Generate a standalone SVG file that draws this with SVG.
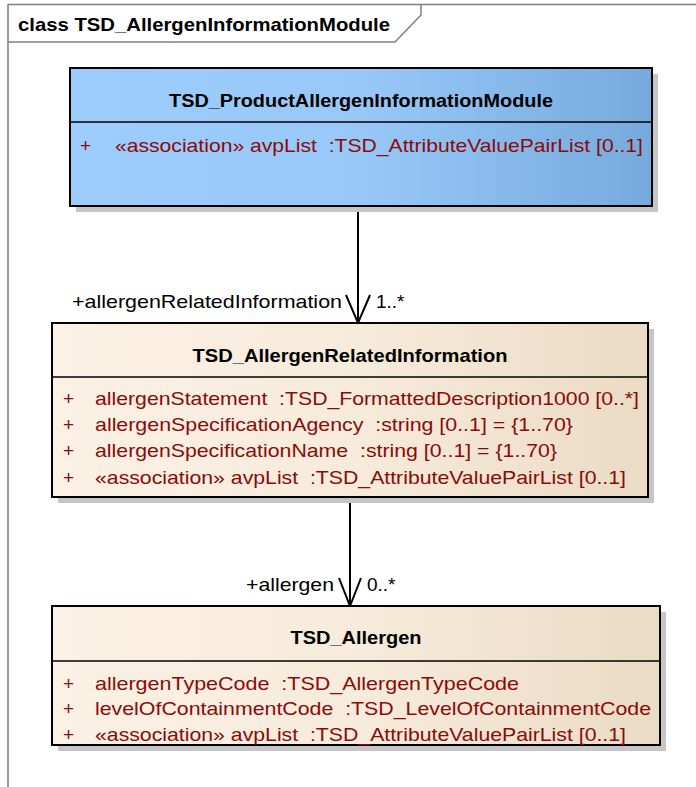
<svg xmlns="http://www.w3.org/2000/svg" width="696" height="787" viewBox="0 0 696 787" xml:space="preserve">
<defs>
<linearGradient id="gBlue" x1="0" y1="0" x2="1" y2="0">
<stop offset="0" stop-color="#9dcdfd"/><stop offset="0.5" stop-color="#97c8f8"/><stop offset="1" stop-color="#76aadd"/>
</linearGradient>
<linearGradient id="gBeige" x1="0" y1="0" x2="1" y2="0">
<stop offset="0" stop-color="#fbf1e4"/><stop offset="0.5" stop-color="#f7ebdb"/><stop offset="1" stop-color="#eadbc4"/>
</linearGradient>
</defs>
<style>
text{white-space:pre}
.frame{fill:none;stroke:#7f7f7f;stroke-width:1.5}
.box{stroke:#000;stroke-width:2}
.shadow{fill:#c6c6c6}
.div{stroke:#000;stroke-width:1.5}
.title{font-family:"Liberation Sans",Arial,sans-serif;font-weight:bold;font-size:19px;fill:#000;text-anchor:middle}
.attr{font-family:"Liberation Sans",Arial,sans-serif;font-size:19px;fill:#8b0a0a}
.lbl{font-family:"Liberation Sans",Arial,sans-serif;font-size:19px;fill:#000}
.conn{stroke:#000;stroke-width:2;fill:none}
</style>
<rect width="696" height="787" fill="#fff"/>
<g id="frame">
<path class="frame" d="M8,787 L8,4.5 L696,4.5"/>
<path class="frame" d="M8,42 L395,42 L421,15 L421,4.5"/>
<text x="18" y="31" font-family="Liberation Sans,Arial,sans-serif" font-weight="bold" font-size="19px" textLength="372" lengthAdjust="spacingAndGlyphs">class TSD_AllergenInformationModule</text>
</g>
<g id="connectors">
<line class="conn" x1="358" y1="206" x2="358" y2="323"/>
<polyline class="conn" points="346,295 358,323 370,295"/>
<text class="lbl" x="342" y="308" text-anchor="end" textLength="270" lengthAdjust="spacingAndGlyphs">+allergenRelatedInformation</text>
<text class="lbl" x="376" y="308">1..*</text>
<line class="conn" x1="350" y1="497" x2="350" y2="606"/>
<polyline class="conn" points="339,578 350,606 361,578"/>
<text class="lbl" x="334" y="591" text-anchor="end" textLength="88" lengthAdjust="spacingAndGlyphs">+allergen</text>
<text class="lbl" x="367" y="591">0..*</text>
</g>
<g id="TSD_ProductAllergenInformationModule">
<rect class="shadow" x="76" y="74" width="582" height="138"/>
<rect class="box" x="70" y="68" width="582" height="138" fill="url(#gBlue)"/>
<line class="div" x1="70" y1="122" x2="652" y2="122"/>
<text class="title" x="361" y="107" textLength="384" lengthAdjust="spacingAndGlyphs">TSD_ProductAllergenInformationModule</text>
<text class="attr" x="80" y="152">+</text>
<text class="attr" x="115" y="152" textLength="528" lengthAdjust="spacingAndGlyphs">«association» avpList  :TSD_AttributeValuePairList [0..1]</text>
</g>
<g id="TSD_AllergenRelatedInformation">
<rect class="shadow" x="58" y="329" width="596" height="174"/>
<rect class="box" x="52" y="323" width="596" height="174" fill="url(#gBeige)"/>
<line class="div" x1="52" y1="377" x2="648" y2="377"/>
<text class="title" x="350" y="362" textLength="315" lengthAdjust="spacingAndGlyphs">TSD_AllergenRelatedInformation</text>
<text class="attr" x="63" y="405">+</text>
<text class="attr" x="95" y="405" textLength="544" lengthAdjust="spacingAndGlyphs">allergenStatement  :TSD_FormattedDescription1000 [0..*]</text>
<text class="attr" x="63" y="431">+</text>
<text class="attr" x="95" y="431" textLength="478" lengthAdjust="spacingAndGlyphs">allergenSpecificationAgency  :string [0..1] = {1..70}</text>
<text class="attr" x="63" y="457">+</text>
<text class="attr" x="95" y="457" textLength="462" lengthAdjust="spacingAndGlyphs">allergenSpecificationName  :string [0..1] = {1..70}</text>
<text class="attr" x="63" y="484">+</text>
<text class="attr" x="95" y="484" textLength="531" lengthAdjust="spacingAndGlyphs">«association» avpList  :TSD_AttributeValuePairList [0..1]</text>
</g>
<g id="TSD_Allergen">
<rect class="shadow" x="58" y="612" width="608" height="139"/>
<rect class="box" x="52" y="606" width="608" height="139" fill="url(#gBeige)"/>
<line class="div" x1="52" y1="661" x2="660" y2="661"/>
<text class="title" x="356" y="644" textLength="131" lengthAdjust="spacingAndGlyphs">TSD_Allergen</text>
<text class="attr" x="63" y="690">+</text>
<text class="attr" x="95" y="690" textLength="424" lengthAdjust="spacingAndGlyphs">allergenTypeCode  :TSD_AllergenTypeCode</text>
<text class="attr" x="63" y="715">+</text>
<text class="attr" x="95" y="715" textLength="556" lengthAdjust="spacingAndGlyphs">levelOfContainmentCode  :TSD_LevelOfContainmentCode</text>
<text class="attr" x="63" y="741">+</text>
<text class="attr" x="95" y="741" textLength="531" lengthAdjust="spacingAndGlyphs">«association» avpList  :TSD_AttributeValuePairList [0..1]</text>
</g>
</svg>
